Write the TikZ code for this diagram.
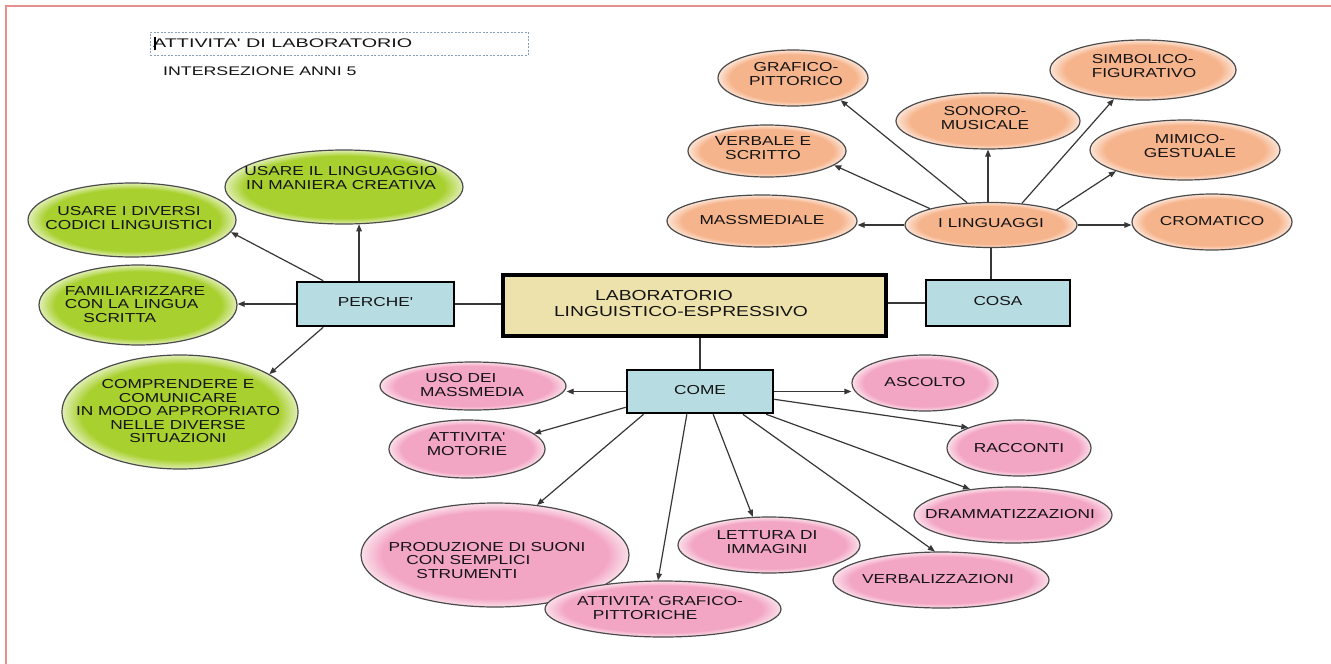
\documentclass[tikz,border=0pt]{standalone}
\usepackage{fontspec}
\setmainfont{Liberation Sans}
\usepackage{graphicx}
\usetikzlibrary{shapes.geometric,arrows.meta,calc}

% palette
\definecolor{gfill}{RGB}{168,208,46}
\definecolor{ofill}{RGB}{246,180,140}
\definecolor{pfill}{RGB}{243,166,196}
\colorlet{grim}{gfill!35!white}
\colorlet{orim}{ofill!35!white}
\colorlet{prim}{pfill!35!white}
\definecolor{bluebox}{RGB}{183,221,226}
\definecolor{labfill}{RGB}{238,226,172}
\definecolor{edgegray}{RGB}{75,75,75}
\definecolor{framecol}{RGB}{229,143,143}
\definecolor{dashcol}{RGB}{135,160,182}
\definecolor{ink}{RGB}{20,20,20}

% ellipse fills: flat colour with a paler rim
\pgfdeclareradialshading{rimgreen}{\pgfpoint{0bp}{0bp}}{color(0bp)=(gfill); color(21bp)=(gfill); color(25bp)=(grim); color(50bp)=(grim)}
\pgfdeclareradialshading{rimorange}{\pgfpoint{0bp}{0bp}}{color(0bp)=(ofill); color(21bp)=(ofill); color(25bp)=(orim); color(50bp)=(orim)}
\pgfdeclareradialshading{rimpink}{\pgfpoint{0bp}{0bp}}{color(0bp)=(pfill); color(21bp)=(pfill); color(25bp)=(prim); color(50bp)=(prim)}

% wide lettering, one or more lines
\newcommand{\wtx}[2][c]{\scalebox{1.33}[1]{\begin{tabular}{@{}#1@{}}#2\end{tabular}}}
\newcommand{\q}{\textquotesingle}

\tikzset{
  ellbase/.style={ellipse, draw=edgegray, line width=1.2pt, inner sep=0pt},
  gell/.style={ellbase, shade, shading=rimgreen},
  oell/.style={ellbase, shade, shading=rimorange},
  pell/.style={ellbase, shade, shading=rimpink},
  txt/.style={inner sep=0pt, text=ink, font=\fontsize{13}{13.5}\selectfont},
  qbox/.style={rectangle, draw=black, line width=2.6pt, fill=bluebox, inner sep=0pt,
               text=ink, font=\fontsize{13}{13}\selectfont},
  labbx/.style={qbox, fill=labfill, line width=3.4pt},
  arr/.style={draw=ink!85, line width=1.2pt, -{Triangle[length=7pt,width=5.5pt]}},
  link/.style={draw=ink!85, line width=1.2pt},
  titlebox/.style={draw=dashcol, line width=0.8pt, dash pattern=on 2pt off 1.5pt, inner sep=0pt},
}

\begin{document}
\begin{tikzpicture}[x=1pt,y=-1pt]
\useasboundingbox (0,0) rectangle (1331,664);
\fill[white] (0,0) rectangle (1331,664);

% page frame
\draw[framecol, line width=2.2pt] (6,664) -- (6,6) -- (1331,6);

% heading
\node[titlebox, minimum width=378, minimum height=23] (tbox) at (339,43.5) {};
\node[txt, anchor=west, font=\fontsize{12.5}{13}\selectfont] (t1) at (153,43.5)
  {\scalebox{1.58}[1]{ATTIVITA\q{} DI LABORATORIO}};
\draw[black, line width=1.8pt] (155,37) -- (155,50);
\node[txt, anchor=west, font=\fontsize{12.5}{13}\selectfont] (t2) at (163,71)
  {\scalebox{1.42}[1]{INTERSEZIONE ANNI 5}};

% central boxes
\node[labbx, minimum width=383, minimum height=61] (lab) at (694.5,305.5) {};
\node[txt, font=\fontsize{14.5}{16}\selectfont] (labt) at (681,305.5)
  {\wtx[l]{\hspace*{31pt}LABORATORIO\\LINGUISTICO-ESPRESSIVO}};
\node[qbox, minimum width=157, minimum height=44] (p) at (375.5,304) {\wtx{PERCHE\q}};
\node[qbox, minimum width=144, minimum height=46] (cosa) at (998,303) {\wtx{COSA}};
\node[qbox, minimum width=146, minimum height=43] (come) at (700,391.5) {\wtx{COME}};

% green: why
\node[gell, minimum width=238, minimum height=74] (g1) at (344,187) {};
\node[txt] (g1t) at (341,180) {\wtx{USARE IL LINGUAGGIO\\IN MANIERA CREATIVA}};
\node[gell, minimum width=208, minimum height=74] (g2) at (132,220) {};
\node[txt] (g2t) at (129,220) {\wtx{USARE I DIVERSI\\CODICI LINGUISTICI}};
\node[gell, minimum width=198, minimum height=80] (g3) at (138,305) {};
\node[txt] (g3t) at (135,306) {\wtx[l]{FAMILIARIZZARE\\CON LA LINGUA\\\hspace*{14pt}SCRITTA}};
\node[gell, minimum width=236, minimum height=114] (g4) at (180,412) {};
\node[txt] (g4t) at (178,413) {\wtx{COMPRENDERE E\\COMUNICARE\\IN MODO APPROPRIATO\\NELLE DIVERSE\\SITUAZIONI}};

% orange: what
\node[oell, minimum width=172, minimum height=45] (ling) at (991,225) {};
\node[txt] (lingt) at (991,225) {\wtx{I LINGUAGGI}};
\node[oell, minimum width=190, minimum height=52] (mass) at (762,221) {};
\node[txt] (masst) at (762,222) {\wtx{MASSMEDIALE}};
\node[oell, minimum width=158, minimum height=52] (verb) at (767,151) {};
\node[txt] (verbt) at (763,150) {\wtx{VERBALE E\\SCRITTO}};
\node[oell, minimum width=150, minimum height=56] (graf) at (793,78) {};
\node[txt] (graft) at (796,76) {\wtx{GRAFICO-\\PITTORICO}};
\node[oell, minimum width=184, minimum height=56] (sono) at (988,121) {};
\node[txt] (sonot) at (985,120) {\wtx{SONORO-\\MUSICALE}};
\node[oell, minimum width=186, minimum height=60] (simb) at (1143,70) {};
\node[txt] (simbt) at (1144,68) {\wtx[l]{SIMBOLICO-\\FIGURATIVO}};
\node[oell, minimum width=190, minimum height=60] (mimi) at (1185,150) {};
\node[txt] (mimit) at (1190,148) {\wtx{MIMICO-\\GESTUALE}};
\node[oell, minimum width=160, minimum height=56] (crom) at (1212,222) {};
\node[txt] (cromt) at (1212,223) {\wtx{CROMATICO}};

% pink: how
\node[pell, minimum width=186, minimum height=48] (uso) at (473,386) {};
\node[txt] (usot) at (472,387) {\wtx[l]{\hspace*{4pt}USO DEI\\MASSMEDIA}};
\node[pell, minimum width=146, minimum height=56] (asc) at (925,383) {};
\node[txt] (asct) at (925,384) {\wtx{ASCOLTO}};
\node[pell, minimum width=156, minimum height=58] (mot) at (467,449) {};
\node[txt] (mott) at (467,446) {\wtx{ATTIVITA\q\\MOTORIE}};
\node[pell, minimum width=144, minimum height=56] (racc) at (1019,448) {};
\node[txt] (racct) at (1019,450) {\wtx{RACCONTI}};
\node[pell, minimum width=198, minimum height=56] (dram) at (1013,515) {};
\node[txt] (dramt) at (1010,516) {\wtx{DRAMMATIZZAZIONI}};
\node[pell, minimum width=268, minimum height=104] (prod) at (495,555) {};
\node[txt] (prodt) at (487,562) {\wtx[l]{PRODUZIONE DI SUONI\\\hspace*{13.5pt}CON SEMPLICI\\\hspace*{21pt}STRUMENTI}};
\node[pell, minimum width=182, minimum height=56] (lett) at (769,545) {};
\node[txt] (lettt) at (767,544) {\wtx{LETTURA DI\\IMMAGINI}};
\node[pell, minimum width=216, minimum height=56] (verbz) at (941,580) {};
\node[txt] (verbzt) at (938,581) {\wtx{VERBALIZZAZIONI}};
\node[pell, minimum width=236, minimum height=56] (gp) at (663,609) {};
\node[txt] (gpt) at (660,610) {\wtx[l]{ATTIVITA\q{} GRAFICO-\\\hspace*{12pt}PITTORICHE}};

% connectors of the centre
\draw[link] (p.east) -- (p.east -| lab.west);
\draw[link] (lab.east |- cosa.west) -- (cosa.west);
\draw[link] (cosa.north -| ling.south) -- (ling.south);
\draw[link] (lab.south -| come.north) -- (come.north);

% why
\draw[arr] (g1.-68 |- p.north) -- (g1.-68);
\draw[arr] (p.156.5) -- (g2.-7);
\draw[arr] (p.west) -- (p.west -| g3.east);
\draw[arr] (p.204.4) -- (g4.23.4);

% what
\draw[arr] (ling.west) -- (ling.west -| mass.east);
\draw[arr] (ling.165) -- (verb.-12);
\draw[arr] (ling.137.5) -- (graf.-25.7);
\draw[arr] (sono.south |- ling.north) -- (sono.south);
\draw[arr] (ling.35.4) -- (simb.225);
\draw[arr] (ling.13.5) -- (mimi.197.5);
\draw[arr] (ling.east) -- (ling.east -| crom.west);

% how
\draw[arr] (come.west) -- (come.west -| uso.east);
\draw[arr] (come.east) -- (come.east -| asc.west);
\draw[arr] (come.192) -- (mot.13.7);
\draw[arr] (come.202.1) -- (prod.50);
\draw[arr] (come.240.8) -- (gp.100);
\draw[arr] (come.-60.8) -- (lett.120.4);
\draw[arr] (come.-28.3) -- (verbz.102);
\draw[arr] (come.-19.7) -- (dram.149.7);
\draw[arr] (come.-6.6) -- (racc.158.7);
\end{tikzpicture}
\end{document}
